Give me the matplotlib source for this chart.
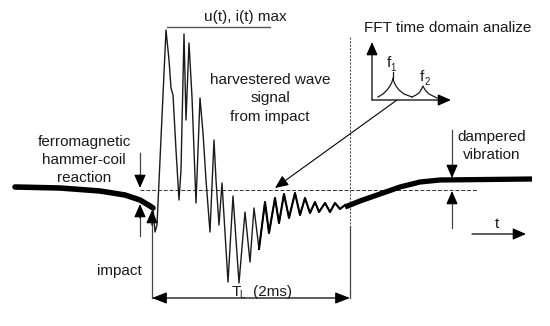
import matplotlib.pyplot as plt

plt.rcParams['font.family'] = ['Liberation Sans', 'DejaVu Sans']

# signal trace (pixel coords, y down)
lead_x = [15, 60, 100, 125, 140, 150, 153]
lead_y = [187, 188, 191, 195, 200, 206, 208]

wave_x = [153, 155, 157, 166, 169, 171, 173, 176, 179, 181, 184, 186, 189, 192, 194, 196,
          200, 203, 206, 210, 214, 216, 219, 222, 228, 233, 239, 245, 250, 254, 259, 265,
          269, 275, 279, 284, 289, 295, 300, 305, 310, 315, 319, 325, 330, 335, 340, 345]
wave_y = [208, 232, 225, 30, 60, 88, 95, 150, 200, 170, 34, 120, 43, 97, 150, 203,
          98, 133, 180, 232, 140, 180, 225, 183, 282, 196, 283, 212, 262, 208, 249, 202,
          233, 198, 223, 194, 218, 193, 215, 198, 213, 202, 212, 203, 212, 203, 209, 205]

tail_x = [345, 360, 380, 400, 420, 440, 532]
tail_y = [207, 201, 194, 187, 182, 180, 179]

# FFT sketch: two cusp peaks
fft1_x = [378, 383, 387, 390, 392, 393, 394, 396, 399, 404, 412]
fft1_y = [97, 94, 90, 86, 82, 78, 82, 86, 90, 94, 97]
fft2_x = [412, 416, 419, 421, 422, 423, 424, 426, 429, 437]
fft2_y = [97, 95, 93, 90, 88, 86, 88, 91, 94, 98]

fig = plt.figure(figsize=(5.5, 3.26), dpi=100)
ax = fig.add_axes([0, 0, 1, 1])
ax.set_xlim(0, 550)
ax.set_ylim(326, 0)
ax.axis('off')

ink = '#1a1a1a'

# baseline + limits
ax.plot([140, 478], [190, 190], color='#333333', lw=0.7, ls=(0, (4, 2)))
ax.plot([350, 350], [37, 226], color='#555555', lw=0.8, ls=(0, (2, 1.2)))
ax.plot([350, 350], [226, 298], color='#444444', lw=0.9)
ax.plot([152, 152], [220, 298], color='#444444', lw=0.9)

# trace
ax.plot(lead_x, lead_y, color='black', lw=4.0, solid_capstyle='round')
ax.plot(wave_x, wave_y, color=ink, lw=1.0)
k = wave_x.index(259)
ax.plot(wave_x[k:], wave_y[k:], color='black', lw=1.5)
ax.plot(tail_x, tail_y, color='black', lw=3.8, solid_capstyle='butt')

def arrow(p0, p1, lw=0.9, c='black'):
    ax.annotate('', xy=p1, xytext=p0,
                arrowprops=dict(arrowstyle='-|>,head_length=0.8,head_width=0.35',
                                color=c, lw=lw, shrinkA=0, shrinkB=0))

# max line
ax.plot([167, 270], [27, 27], color='#555555', lw=1.0)
ax.text(245, 21, 'u(t), i(t) max', fontsize=11, ha='center', va='baseline', color=ink)

# ferromagnetic reaction arrows
ax.plot([140, 140], [153, 180], color='#444444', lw=0.9)
arrow((140, 175), (140, 188))
ax.plot([140, 140], [212, 236], color='#444444', lw=0.9)
arrow((140, 218), (140, 204))
ax.text(84, 142, 'ferromagnetic', fontsize=11, ha='center', va='center', color=ink)
ax.text(84, 160, 'hammer-coil', fontsize=11, ha='center', va='center', color=ink)
ax.text(84, 178, 'reaction', fontsize=11, ha='center', va='center', color=ink)

# impact
arrow((152, 225), (152, 210))
ax.text(142, 271, 'impact', fontsize=11, ha='right', va='center', color=ink)

# T_L span
ax.annotate('', xy=(152, 298), xytext=(350, 298),
            arrowprops=dict(arrowstyle='<|-|>,head_length=0.9,head_width=0.35',
                            color='black', lw=0.9, shrinkA=0, shrinkB=0))
ax.text(236, 292, 'T', fontsize=11, ha='center', va='center', color=ink)
ax.text(242, 295, 'L', fontsize=7, ha='center', va='center', color=ink)
ax.text(273, 292, '(2ms)', fontsize=11, ha='center', va='center', color=ink)

# harvested wave label + pointer
ax.text(270, 80, 'harvestered wave', fontsize=11, ha='center', va='center', color=ink)
ax.text(270, 98, 'signal', fontsize=11, ha='center', va='center', color=ink)
ax.text(270, 117, 'from impact', fontsize=11, ha='center', va='center', color=ink)
arrow((397, 100), (275, 188), lw=0.8)

# FFT inset
ax.text(448, 28, 'FFT time domain analize', fontsize=11, ha='center', va='center', color=ink)
arrow((372, 100), (372, 42))
arrow((372, 100), (451, 100))
ax.plot(fft1_x, fft1_y, color=ink, lw=0.9)
ax.plot(fft2_x, fft2_y, color=ink, lw=0.9)
ax.plot([393, 393], [78, 72], color=ink, lw=0.9)
ax.text(389, 63, 'f', fontsize=11, ha='center', va='center', color=ink)
ax.text(393, 68, '1', fontsize=7, ha='center', va='center', color=ink)
ax.text(422, 77, 'f', fontsize=11, ha='center', va='center', color=ink)
ax.text(427, 82, '2', fontsize=7, ha='center', va='center', color=ink)

# dampered vibration
ax.plot([452, 452], [130, 170], color='#444444', lw=0.9)
arrow((452, 168), (452, 178))
ax.plot([452, 452], [200, 228], color='#444444', lw=0.9)
arrow((452, 202), (452, 191))
ax.text(492, 137, 'dampered', fontsize=11, ha='center', va='center', color=ink)
ax.text(492, 155, 'vibration', fontsize=11, ha='center', va='center', color=ink)

# time axis
arrow((472, 234), (526, 234))
ax.text(497, 224, 't', fontsize=11, ha='center', va='center', color=ink)

fig.savefig('out.png', dpi=100)
